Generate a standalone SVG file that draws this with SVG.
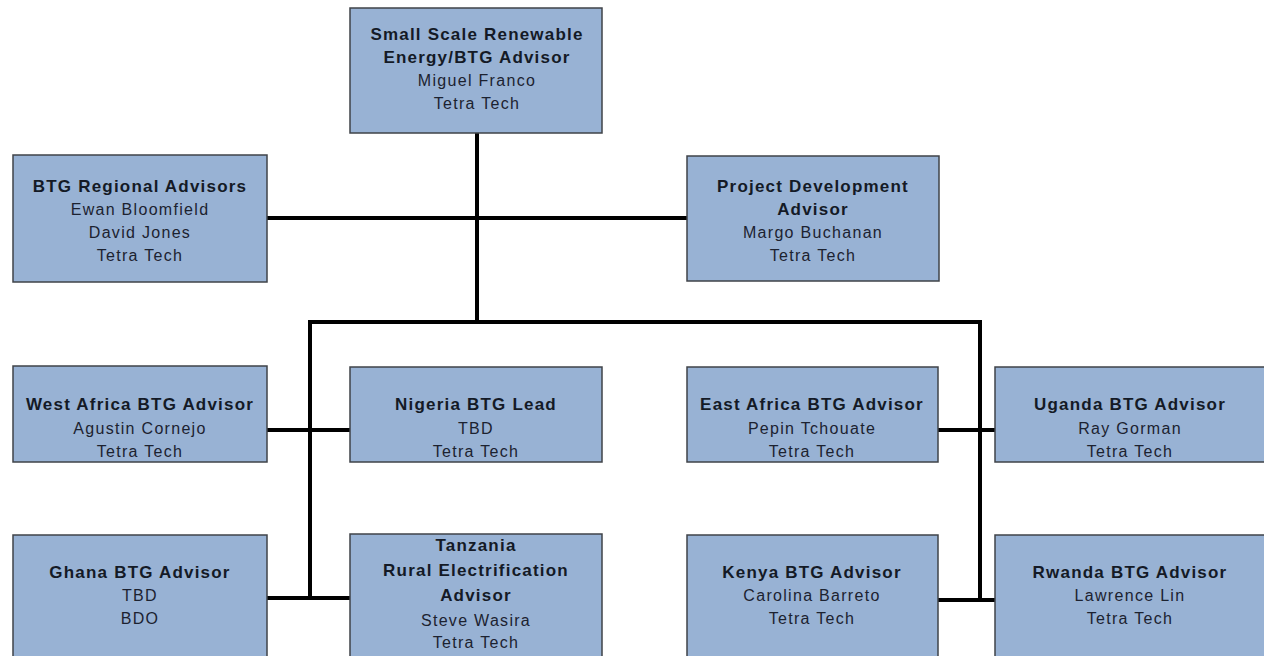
<svg xmlns="http://www.w3.org/2000/svg" width="1264" height="656" viewBox="0 0 1264 656">
<style>
.box{fill:#98b2d4;stroke:#3f4348;stroke-width:1.5}
.t{font-family:"Liberation Sans",Arial,sans-serif;font-size:17px;font-weight:bold;fill:#141a26;text-anchor:middle;letter-spacing:1.2px}
.n{font-family:"Liberation Sans",Arial,sans-serif;font-size:16px;fill:#1c2230;text-anchor:middle;letter-spacing:1.3px}
.c{fill:none;stroke:#000;stroke-width:4;stroke-linecap:square}
</style>
<rect width="1264" height="656" fill="#fff"/>
<g id="connectors">
<line class="c" x1="477" y1="133" x2="477" y2="322"/>
<line class="c" x1="267" y1="218" x2="687" y2="218"/>
<polyline class="c" points="310,598 310,322 980,322 980,600"/>
<line class="c" x1="267" y1="430" x2="350" y2="430"/>
<line class="c" x1="938" y1="430" x2="995" y2="430"/>
<line class="c" x1="267" y1="598" x2="350" y2="598"/>
<line class="c" x1="938" y1="600" x2="995" y2="600"/>
</g>
<g id="top">
<rect class="box" x="350" y="8" width="252" height="125"/>
<text class="t" x="477" y="40">Small Scale Renewable</text>
<text class="t" x="477" y="63">Energy/BTG Advisor</text>
<text class="n" x="477" y="86">Miguel Franco</text>
<text class="n" x="477" y="109">Tetra Tech</text>
</g>
<g id="regional">
<rect class="box" x="13" y="155" width="254" height="127"/>
<text class="t" x="140" y="192">BTG Regional Advisors</text>
<text class="n" x="140" y="215">Ewan Bloomfield</text>
<text class="n" x="140" y="238">David Jones</text>
<text class="n" x="140" y="261">Tetra Tech</text>
</g>
<g id="projdev">
<rect class="box" x="687" y="156" width="252" height="125"/>
<text class="t" x="813" y="192">Project Development</text>
<text class="t" x="813" y="215">Advisor</text>
<text class="n" x="813" y="238">Margo Buchanan</text>
<text class="n" x="813" y="261">Tetra Tech</text>
</g>
<g id="westafrica">
<rect class="box" x="13" y="366" width="254" height="96"/>
<text class="t" x="140" y="410">West Africa BTG Advisor</text>
<text class="n" x="140" y="434">Agustin Cornejo</text>
<text class="n" x="140" y="457">Tetra Tech</text>
</g>
<g id="nigeria">
<rect class="box" x="350" y="367" width="252" height="95"/>
<text class="t" x="476" y="410">Nigeria BTG Lead</text>
<text class="n" x="476" y="434">TBD</text>
<text class="n" x="476" y="457">Tetra Tech</text>
</g>
<g id="eastafrica">
<rect class="box" x="687" y="367" width="251" height="95"/>
<text class="t" x="812" y="410">East Africa BTG Advisor</text>
<text class="n" x="812" y="434">Pepin Tchouate</text>
<text class="n" x="812" y="457">Tetra Tech</text>
</g>
<g id="uganda">
<rect class="box" x="995" y="367" width="275" height="95"/>
<text class="t" x="1130" y="410">Uganda BTG Advisor</text>
<text class="n" x="1130" y="434">Ray Gorman</text>
<text class="n" x="1130" y="457">Tetra Tech</text>
</g>
<g id="ghana">
<rect class="box" x="13" y="535" width="254" height="130"/>
<text class="t" x="140" y="578">Ghana BTG Advisor</text>
<text class="n" x="140" y="601">TBD</text>
<text class="n" x="140" y="624">BDO</text>
</g>
<g id="tanzania">
<rect class="box" x="350" y="534" width="252" height="131"/>
<text class="t" x="476" y="551">Tanzania</text>
<text class="t" x="476" y="576">Rural Electrification</text>
<text class="t" x="476" y="601">Advisor</text>
<text class="n" x="476" y="626">Steve Wasira</text>
<text class="n" x="476" y="648">Tetra Tech</text>
</g>
<g id="kenya">
<rect class="box" x="687" y="535" width="251" height="130"/>
<text class="t" x="812" y="578">Kenya BTG Advisor</text>
<text class="n" x="812" y="601">Carolina Barreto</text>
<text class="n" x="812" y="624">Tetra Tech</text>
</g>
<g id="rwanda">
<rect class="box" x="995" y="535" width="275" height="130"/>
<text class="t" x="1130" y="578">Rwanda BTG Advisor</text>
<text class="n" x="1130" y="601">Lawrence Lin</text>
<text class="n" x="1130" y="624">Tetra Tech</text>
</g>
</svg>
